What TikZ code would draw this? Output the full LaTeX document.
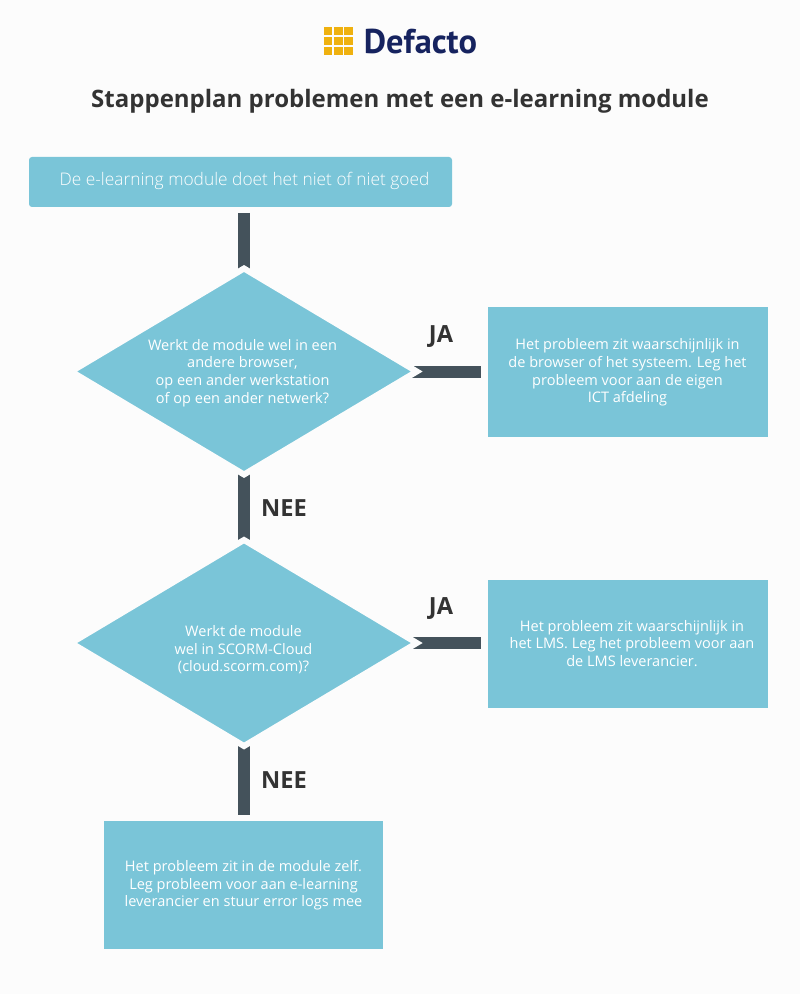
\documentclass[tikz,border=0pt]{standalone}
\usepackage{fontspec}
\setmainfont{Open Sans}
\newfontfamily\logofont{PT Sans}
\newfontfamily\thinfont{Open Sans Light}
\usetikzlibrary{shapes.geometric}
\pgfdeclarelayer{bars}
\pgfsetlayers{bars,main}
\definecolor{pagebg}{HTML}{FCFCFC}
\definecolor{boxblue}{HTML}{7AC5D8}
\definecolor{barslate}{HTML}{44525B}
\definecolor{inkdark}{HTML}{333333}
\definecolor{logonavy}{HTML}{16235F}
\definecolor{logogold}{HTML}{EFB10F}
\tikzset{
  x=0.75pt,y=-0.75pt,
  infobox/.style={fill=boxblue,inner sep=0pt,outer sep=0pt,anchor=north west},
  choice/.style={diamond,shape aspect=1.67,fill=boxblue,draw=pagebg,line width=4.5pt,inner sep=0pt,outer sep=0pt,
    minimum width=259.2pt,minimum height=154.5pt},
  bartrack/.style={draw=barslate,line width=9pt},
  bodytext/.style={text=white,align=center,inner sep=0pt,font=\fontsize{10.9}{13.2}\selectfont},
  answer/.style={text=inkdark,inner sep=0pt,font=\fontsize{17.7}{20}\selectfont\bfseries},
  logocell/.style={fill=logogold,draw=none,minimum size=6.3pt,inner sep=0pt,outer sep=0pt},
}
\begin{document}
\begin{tikzpicture}
\useasboundingbox (0,0) rectangle (800,994);
\begin{pgfonlayer}{bars}
  \fill[pagebg] (0,0) rectangle (800,994);
\end{pgfonlayer}
% logo
\foreach \r [count=\i from 0] in {31,41,51}{
  \foreach \c [count=\j from 0] in {328.2,338.4,348.6}{
    \node[logocell] (cell\i\j) at (\c,\r) {};
  }
}
\node[text=logonavy,inner sep=0pt,anchor=center,font=\logofont\fontsize{25.8}{28}\selectfont\bfseries] (logoword) at (420.5,42) {Defacto};
\node[text=inkdark,inner sep=0pt,font=\fontsize{18}{22}\selectfont\bfseries] (title) at (400,101) {Stappenplan problemen met een e-learning module};
% boxes
\node[infobox,rounded corners=2.25pt,minimum width=317.25pt,minimum height=37.5pt] (start) at (29,157) {};
\node[text=white,inner sep=0pt,font=\thinfont\fontsize{13}{16}\selectfont] (startlabel) at (244.5,181) {De e-learning module doet het niet of niet goed};
\node[choice] (d1) at (244,371.5) {};
\node[choice] (d2) at (244,643) {};
\node[infobox,minimum width=210pt,minimum height=97.5pt] (r1) at (488,307) {};
\node[infobox,minimum width=210pt,minimum height=96pt] (r2) at (488,580) {};
\node[infobox,minimum width=209.25pt,minimum height=96pt] (r3) at (104,821) {};
% free ends
\coordinate (c0) at (244,213);
\coordinate (c1) at (481,371.5);
\coordinate (c2) at (481,643);
\coordinate (c3) at (244,815);
\begin{pgfonlayer}{bars}
  \draw[bartrack] (c0) -- (d1.center);
  \draw[bartrack] (d1.center) -- (c1);
  \draw[bartrack] (d1.center) -- (d2.center);
  \draw[bartrack] (d2.center) -- (c2);
  \draw[bartrack] (d2.center) -- (c3);
\end{pgfonlayer}
% texts
\node[bodytext] (t1) at (242.5,373) {Werkt de module wel in een\\andere browser,\\op een ander werkstation\\of op een ander netwerk?};
\node[bodytext] (t2) at (243.5,650) {Werkt de module\\wel in SCORM-Cloud\\(cloud.scorm.com)?};
\node[bodytext] (t3) at (627.5,372.5) {Het probleem zit waarschijnlijk in\\de browser of het systeem. Leg het\\probleem voor aan de eigen\\ICT afdeling};
\node[bodytext] (t4) at (632,643.5) {Het probleem zit waarschijnlijk in\\het LMS. Leg het probleem voor aan\\de LMS leverancier.};
\node[bodytext] (t5) at (243.5,885.5) {Het probleem zit in de module zelf.\\Leg probleem voor aan e-learning\\leverancier en stuur error logs mee};
\node[answer] (ja1) at (441,337) {JA};
\node[answer] (ja2) at (441,609) {JA};
\node[answer] (nee1) at (284,508.5) {NEE};
\node[answer] (nee2) at (284,780.5) {NEE};
\end{tikzpicture}
\end{document}
